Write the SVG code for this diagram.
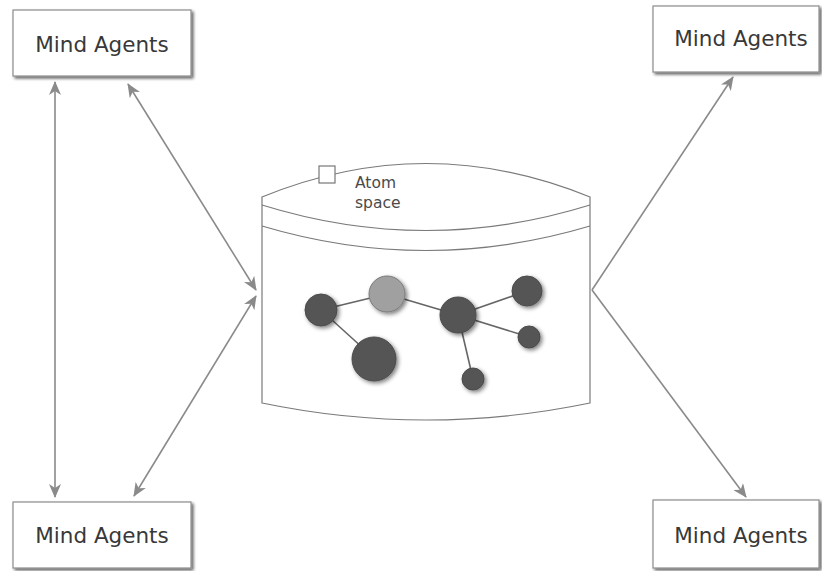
<svg xmlns="http://www.w3.org/2000/svg" width="822" height="571" viewBox="0 0 822 571">
  <style>
    .box { fill: #ffffff; stroke: #8c8c8c; stroke-width: 1.2; filter: url(#shadow); }
    .label { font-family: "DejaVu Sans", Verdana, sans-serif; font-size: 21.5px; fill: #383838; text-anchor: middle; }
    .small { font-family: "DejaVu Sans", Verdana, sans-serif; font-size: 15.5px; fill: #4a4a4a; }
    .conn { fill: none; stroke: #8a8a8a; stroke-width: 1.6; }
    .outline { fill: none; stroke: #7a7a7a; stroke-width: 1.2; }
    .bond { stroke: #666666; stroke-width: 1.6; }
    .atom { fill: #555555; stroke: #4a4a4a; stroke-width: 1; filter: url(#ashadow); }
    .atom-light { fill: #a0a0a0; stroke: #7a7a7a; stroke-width: 1; filter: url(#ashadow); }
  </style>
  <defs>
    <filter id="shadow" x="-10%" y="-20%" width="130%" height="150%">
      <feGaussianBlur in="SourceAlpha" stdDeviation="1.5"/>
      <feOffset dx="2" dy="2" result="b"/>
      <feComponentTransfer><feFuncA type="linear" slope="0.6"/></feComponentTransfer>
      <feMerge><feMergeNode/><feMergeNode in="SourceGraphic"/></feMerge>
    </filter>
    <filter id="ashadow" x="-50%" y="-50%" width="200%" height="200%">
      <feGaussianBlur in="SourceAlpha" stdDeviation="2"/>
      <feOffset dx="2" dy="2"/>
      <feComponentTransfer><feFuncA type="linear" slope="0.5"/></feComponentTransfer>
      <feMerge><feMergeNode/><feMergeNode in="SourceGraphic"/></feMerge>
    </filter>
    <marker id="head" viewBox="0 0 14 12" refX="13" refY="6" markerWidth="14" markerHeight="12" markerUnits="userSpaceOnUse" orient="auto-start-reverse">
      <path d="M0,0 L14,6 L0,12 L4,6 Z" fill="#8a8a8a"/>
    </marker>
  </defs>

  <!-- connectors -->
  <g id="connectors">
    <line class="conn" x1="55" y1="82" x2="55" y2="497" marker-start="url(#head)" marker-end="url(#head)"/>
    <line class="conn" x1="128" y1="84" x2="256" y2="290" marker-start="url(#head)" marker-end="url(#head)"/>
    <line class="conn" x1="134" y1="496" x2="256" y2="296" marker-start="url(#head)" marker-end="url(#head)"/>
    <line class="conn" x1="592" y1="290" x2="733" y2="77" marker-end="url(#head)"/>
    <line class="conn" x1="592" y1="290" x2="746" y2="497" marker-end="url(#head)"/>
  </g>

  <!-- agent boxes -->
  <g id="agents-top-left">
    <rect class="box" x="13" y="10" width="178" height="66"/>
    <text class="label" x="102" y="52">Mind Agents</text>
  </g>
  <g id="agents-top-right">
    <rect class="box" x="653" y="6" width="166" height="66"/>
    <text class="label" x="741" y="46">Mind Agents</text>
  </g>
  <g id="agents-bottom-left">
    <rect class="box" x="13" y="502" width="178" height="66"/>
    <text class="label" x="102" y="543">Mind Agents</text>
  </g>
  <g id="agents-bottom-right">
    <rect class="box" x="653" y="500" width="166" height="68"/>
    <text class="label" x="741" y="543">Mind Agents</text>
  </g>

  <!-- atom space container -->
  <g id="atomspace">
    <path d="M262,197 Q426,130 590,197 L590,403 Q426,437 262,403 Z" fill="#ffffff" stroke="#7a7a7a" stroke-width="1.2"/>
    <path class="outline" d="M262,205 Q426,256 590,205"/>
    <path class="outline" d="M262,226 Q426,275 590,226"/>
    <rect x="319" y="166" width="16" height="17" fill="#ffffff" stroke="#777777" stroke-width="1.2"/>
    <text class="small" x="355" y="188">Atom</text>
    <text class="small" x="355" y="208">space</text>

    <!-- molecule -->
    <g id="molecule">
      <line class="bond" x1="321" y1="310" x2="387" y2="294"/>
      <line class="bond" x1="321" y1="310" x2="375" y2="359"/>
      <line class="bond" x1="387" y1="294" x2="458" y2="315"/>
      <line class="bond" x1="458" y1="315" x2="527" y2="291"/>
      <line class="bond" x1="458" y1="315" x2="529" y2="337"/>
      <line class="bond" x1="458" y1="315" x2="473" y2="379"/>
      <circle class="atom" cx="321" cy="310" r="16"/>
      <circle class="atom-light" cx="387" cy="294" r="18"/>
      <circle class="atom" cx="374" cy="359" r="22"/>
      <circle class="atom" cx="458" cy="315" r="18"/>
      <circle class="atom" cx="527" cy="291" r="15"/>
      <circle class="atom" cx="529" cy="337" r="11"/>
      <circle class="atom" cx="473" cy="379" r="11"/>
    </g>
  </g>
</svg>
